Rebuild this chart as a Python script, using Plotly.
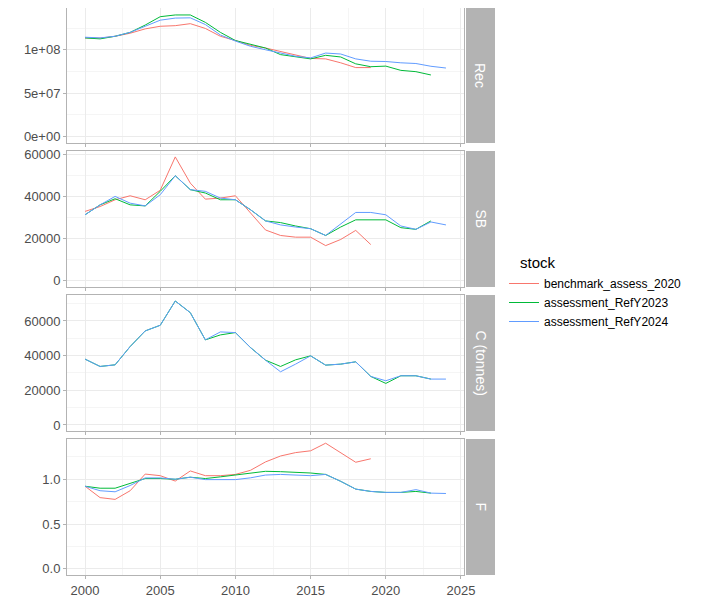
import plotly.graph_objects as go

# ---------------- data ----------------
years_bench = list(range(2000, 2020))
years_2023 = list(range(2000, 2024))
years_2024 = list(range(2000, 2025))

rec_bench = [1.136e8, 1.134e8, 1.155e8, 1.19e8, 1.24e8, 1.27e8, 1.277e8, 1.30e8, 1.245e8, 1.155e8,
             1.106e8, 1.05e8, 1.02e8, 0.98e8, 0.944e8, 0.90e8, 0.895e8, 0.85e8, 0.795e8, 0.795e8]
rec_2023 = [1.136e8, 1.125e8, 1.155e8, 1.20e8, 1.284e8, 1.38e8, 1.40e8, 1.40e8, 1.315e8, 1.20e8,
            1.106e8, 1.06e8, 1.02e8, 0.944e8, 0.917e8, 0.895e8, 0.936e8, 0.917e8, 0.838e8, 0.805e8,
            0.812e8, 0.763e8, 0.748e8, 0.71e8]
rec_2024 = [1.144e8, 1.136e8, 1.155e8, 1.20e8, 1.27e8, 1.34e8, 1.364e8, 1.367e8, 1.29e8, 1.17e8,
            1.10e8, 1.04e8, 1.00e8, 0.96e8, 0.925e8, 0.906e8, 0.962e8, 0.951e8, 0.895e8, 0.868e8,
            0.865e8, 0.85e8, 0.842e8, 0.81e8, 0.79e8]

sb_bench = [32900, 35200, 38400, 40300, 38400, 42900, 58700, 46300, 38700, 39200,
            40300, 32000, 24100, 21500, 20700, 20700, 16700, 19600, 23900, 17200]
sb_2023 = [31300, 36000, 38900, 36000, 35500, 42400, 49800, 43200, 41600, 38400,
           38400, 33700, 28400, 27600, 26000, 24700, 21500, 25500, 28900, 28900,
           28900, 25200, 24400, 28400]
sb_2024 = [31300, 36000, 40000, 36800, 35500, 40800, 49800, 43200, 42400, 39200,
           38400, 33700, 28400, 26500, 25500, 24700, 21500, 26800, 32400, 32400,
           31300, 26000, 24400, 27900, 26500]

c_2023 = [37970, 33750, 34700, 45250, 54270, 57530, 71530, 64800, 49090, 51960,
          53300, 44680, 37390, 33750, 37580, 39880, 34520, 35090, 36430, 28000,
          23970, 28380, 28380, 26460]
c_2024 = [37970, 33750, 34700, 45250, 54270, 57530, 71530, 64800, 49090, 53690,
          53300, 44680, 37390, 30680, 35090, 39880, 34520, 35090, 36430, 28000,
          25500, 28380, 28380, 26460, 26460]

f_bench = [0.922, 0.795, 0.775, 0.872, 1.058, 1.04, 0.98, 1.093, 1.04, 1.04,
           1.054, 1.10, 1.194, 1.26, 1.298, 1.318, 1.403, 1.298, 1.19, 1.229]
f_2023 = [0.922, 0.90, 0.90, 0.95, 1.008, 1.008, 1.0, 1.023, 1.008, 1.027,
          1.047, 1.074, 1.089, 1.085, 1.078, 1.07, 1.054, 0.977, 0.89, 0.864,
          0.853, 0.853, 0.864, 0.845]
f_2024 = [0.922, 0.872, 0.86, 0.93, 1.015, 1.015, 1.0, 1.023, 0.996, 0.996,
          0.996, 1.016, 1.047, 1.054, 1.047, 1.04, 1.054, 0.977, 0.89, 0.864,
          0.853, 0.853, 0.884, 0.845, 0.841]

panel_names = ["Rec", "SB", "C (tonnes)", "F"]
stock_names = ["benchmark_assess_2020", "assessment_RefY2023", "assessment_RefY2024"]
stock_colors = ["#F8766D", "#00BA38", "#619CFF"]
legend_title = "stock"

x_ticks = [2000, 2005, 2010, 2015, 2020, 2025]
y_ticks = [
    ([0, 5e7, 1e8], ["0e+00", "5e+07", "1e+08"]),
    ([0, 20000, 40000, 60000], ["0", "20000", "40000", "60000"]),
    ([0, 20000, 40000, 60000], ["0", "20000", "40000", "60000"]),
    ([0, 0.5, 1.0], ["0.0", "0.5", "1.0"]),
]

panel_series = [
    [(years_bench, rec_bench), (years_2023, rec_2023), (years_2024, rec_2024)],
    [(years_bench, sb_bench), (years_2023, sb_2023), (years_2024, sb_2024)],
    [None, (years_2023, c_2023), (years_2024, c_2024)],
    [(years_bench, f_bench), (years_2023, f_2023), (years_2024, f_2024)],
]

# ---------------- layout geometry (figure px; page has an 8px body margin) ----------------
W, H = 699, 590
L = 59
T = 0
plot_right = 456
strip_left = 458
strip_right = 487
R = W - strip_right
panel_px = [(0, 135), (143, 279), (287, 423), (431, 567)]
B = H - panel_px[-1][1]
pw = W - L - R
ph = H - T - B
y_ranges = [[-7.2e6, 1.48e8], [-2900, 61500], [-3500, 75000], [-0.07, 1.45]]
minor_dt = [2.5e7, 10000, 10000, 0.25]

grid_major = "#EBEBEB"
grid_minor = "#F5F5F5"
border = "#B3B3B3"
font_fam = "Liberation Sans, Arial, sans-serif"

fig = go.Figure()
layout = dict(
    width=W, height=H,
    margin=dict(l=L, r=R, t=T, b=B, autoexpand=False),
    paper_bgcolor="white", plot_bgcolor="white",
    font=dict(family=font_fam, size=12, color="#4D4D4D"),
    shapes=[], annotations=[],
)

xdom = [0, (plot_right - L) / pw]
legend_shown = set()
for i in range(4):
    top, bot = panel_px[i]
    ydom = [1 - (bot - T) / ph, 1 - (top - T) / ph]
    xa = "xaxis" if i == 0 else f"xaxis{i+1}"
    ya = "yaxis" if i == 0 else f"yaxis{i+1}"
    xr = "x" if i == 0 else f"x{i+1}"
    yr = "y" if i == 0 else f"y{i+1}"
    layout[xa] = dict(
        domain=xdom, anchor=yr, range=[1998.8, 2025.2],
        tickvals=x_ticks, ticktext=[str(v) for v in x_ticks],
        showticklabels=(i == 3), ticks="outside", ticklen=3, tickcolor=border,
        showgrid=True, gridcolor=grid_major, gridwidth=1,
        minor=dict(dtick=2.5, tick0=2000, showgrid=True, gridcolor=grid_minor, gridwidth=1),
        showline=True, mirror=True, linecolor=border, linewidth=1,
        zeroline=False, tickfont=dict(size=13, color="#4D4D4D"),
        matches=None if i == 0 else "x",
    )
    tv, tt = y_ticks[i]
    layout[ya] = dict(
        domain=ydom, anchor=xr, range=y_ranges[i],
        tickvals=tv, ticktext=tt, ticks="outside", ticklen=3, tickcolor=border,
        showgrid=True, gridcolor=grid_major, gridwidth=1,
        minor=dict(dtick=minor_dt[i], tick0=0, showgrid=True, gridcolor=grid_minor, gridwidth=1),
        showline=True, mirror=True, linecolor=border, linewidth=1,
        zeroline=False, tickfont=dict(size=13, color="#4D4D4D"),
    )
    for k, ser in enumerate(panel_series[i]):
        if ser is None:
            continue
        xs, ys = ser
        show = stock_names[k] not in legend_shown
        legend_shown.add(stock_names[k])
        fig.add_trace(go.Scatter(
            x=xs, y=ys, mode="lines", name=stock_names[k],
            line=dict(color=stock_colors[k], width=1),
            xaxis=xr, yaxis=yr, showlegend=show, legendrank=k + 1,
        ))
    # facet strip
    layout["shapes"].append(dict(
        type="rect", xref="paper", yref="paper",
        x0=(strip_left - L) / pw, x1=1.0, y0=ydom[0], y1=ydom[1],
        fillcolor="#B3B3B3", line=dict(width=0), layer="below",
    ))
    layout["annotations"].append(dict(
        xref="paper", yref="paper",
        x=((strip_left - L) / pw + 1.0) / 2, y=(ydom[0] + ydom[1]) / 2,
        text=panel_names[i], textangle=90, showarrow=False,
        font=dict(size=14, color="white", family=font_fam),
        xanchor="center", yanchor="middle",
    ))

# legend title (placed like ggplot's, left-aligned with the keys)
layout["annotations"].append(dict(
    xref="paper", yref="paper",
    x=(510 - L) / pw, y=1 - (254 - T) / ph,
    text=legend_title, showarrow=False, xanchor="left", yanchor="middle",
    font=dict(size=15, color="black", family=font_fam),
))
layout["legend"] = dict(
    x=(496 - L) / pw, xanchor="left",
    y=1 - (261 - T) / ph, yanchor="top",
    font=dict(size=12, color="black"),
    bgcolor="rgba(0,0,0,0)", tracegroupgap=0, itemwidth=30,
    traceorder="normal",
)
fig.update_layout(**layout)
fig.write_html("out.html")
